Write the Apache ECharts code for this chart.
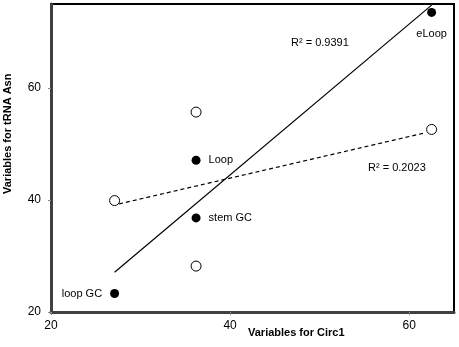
<!DOCTYPE html>
<html>
<head>
<meta charset="utf-8">
<script src="https://cdn.jsdelivr.net/npm/echarts@6/dist/echarts.min.js"></script>
<style>
  html, body { margin: 0; padding: 0; background: #fff; }
  #chart { width: 459px; height: 347px; }
</style>
</head>
<body>
<div id="chart"></div>
<script>
// filled points (labelled)
let filledNames = ['loop GC', 'stem GC', 'Loop', 'eLoop'];
let filledX = [27.1, 36.2, 36.2, 62.5];
let filledY = [23.3, 36.8, 47.1, 73.5];
// open points
let openX = [27.1, 36.2, 36.2, 62.5];
let openY = [39.9, 28.2, 55.7, 52.6];
// trend lines (end points)
let solidTrendX = [27.1, 62.5];
let solidTrendY = [27.1, 74.8];
let dashedTrendX = [27.6, 61.8];
let dashedTrendY = [39.3, 52.0];
let r2Labels = ['R² = 0.9391', 'R² = 0.2023'];

let labelPos = ['left', 'right', 'right', 'bottom'];
let font = '"Liberation Sans", Arial, sans-serif';

let filledData = filledX.map(function (x, i) {
  return {
    value: [x, filledY[i]],
    name: filledNames[i],
    label: { position: labelPos[i], distance: labelPos[i] === 'bottom' ? 12 : 8 }
  };
});
let openData = openX.map(function (x, i) { return [x, openY[i]]; });
let solidData = solidTrendX.map(function (x, i) { return [x, solidTrendY[i]]; });
let dashedData = dashedTrendX.map(function (x, i) { return [x, dashedTrendY[i]]; });

let myChart = echarts.init(document.getElementById('chart'));
myChart.setOption({
  backgroundColor: '#fff',
  animation: false,
  grid: {
    left: 51, right: 5, top: 4, bottom: 35,
    show: true,
    borderColor: '#000',
    borderWidth: 2
  },
  xAxis: {
    type: 'value',
    min: 20, max: 65, interval: 20,
    splitLine: { show: false },
    axisLine: { show: true, lineStyle: { color: '#404040', width: 3 } },
    axisTick: { show: true, length: 3, lineStyle: { color: '#888' } },
    axisLabel: { showMaxLabel: false, color: '#000', fontSize: 12, fontFamily: font, margin: 8 }
  },
  yAxis: {
    type: 'value',
    min: 20, max: 75, interval: 20,
    splitLine: { show: false },
    axisLine: { show: true, lineStyle: { color: '#404040', width: 3 } },
    axisTick: { show: true, length: 3, lineStyle: { color: '#888' } },
    axisLabel: { showMaxLabel: false, color: '#000', fontSize: 12, fontFamily: font, margin: 10 }
  },
  graphic: [
    {
      type: 'text', left: 248, top: 327,
      style: { text: 'Variables for Circ1', font: 'bold 11px ' + font, fill: '#000' }
    },
    {
      type: 'text', x: 2, y: 194, rotation: Math.PI / 2,
      style: { text: 'Variables for tRNA Asn', font: 'bold 11px ' + font, fill: '#000' }
    },
    {
      type: 'text', left: 291, top: 37,
      style: { text: r2Labels[0], font: '11px ' + font, fill: '#000' }
    },
    {
      type: 'text', left: 368, top: 162,
      style: { text: r2Labels[1], font: '11px ' + font, fill: '#000' }
    }
  ],
  series: [
    {
      type: 'line',
      data: solidData,
      symbol: 'none',
      lineStyle: { color: '#000', width: 1.2 },
      z: 2
    },
    {
      type: 'line',
      data: dashedData,
      symbol: 'none',
      lineStyle: { color: '#000', width: 1.2, type: [4, 3] },
      z: 2
    },
    {
      type: 'scatter',
      data: openData,
      symbol: 'circle',
      symbolSize: 10,
      itemStyle: { color: '#fff', borderColor: '#000', borderWidth: 1, opacity: 1 },
      z: 3
    },
    {
      type: 'scatter',
      data: filledData,
      symbol: 'circle',
      symbolSize: 9,
      itemStyle: { color: '#000', opacity: 1 },
      label: {
        show: true,
        formatter: '{b}',
        color: '#000',
        fontSize: 11,
        fontFamily: font
      },
      z: 3
    }
  ]
});
</script>
</body>
</html>
